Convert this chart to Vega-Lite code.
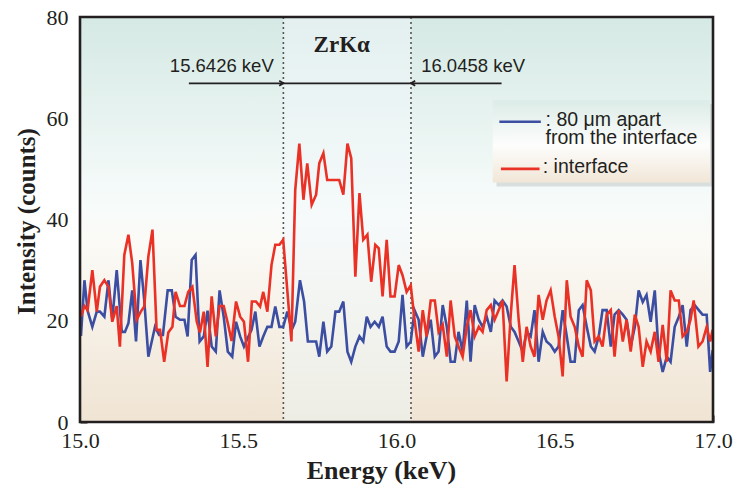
{
  "$schema": "https://vega.github.io/schema/vega-lite/v6.json",
  "width": 633,
  "height": 405,
  "autosize": {"type": "none"},
  "padding": {"left": 80, "top": 17, "right": 21, "bottom": 65},
  "config": {
    "view": {"stroke": null},
    "axis": {
      "domain": false, "grid": false, "tickColor": "#231f20", "tickWidth": 2, "tickSize": -7,
      "labelFont": "Liberation Serif", "labelFontSize": 22, "labelColor": "#231f20",
      "titleFont": "Liberation Serif", "titleFontWeight": "bold", "titleFontSize": 26, "titleColor": "#231f20"
    }
  },
  "datasets": {
    "spectra": [
      {"E":15.003,"I":17,"s":"apart"},{"E":15.014,"I":28,"s":"apart"},{"E":15.024,"I":22,"s":"apart"},{"E":15.039,"I":18.8,"s":"apart"},{"E":15.053,"I":21.8,"s":"apart"},{"E":15.063,"I":21.8,"s":"apart"},{"E":15.077,"I":20.8,"s":"apart"},{"E":15.09,"I":28,"s":"apart"},{"E":15.102,"I":20.2,"s":"apart"},{"E":15.116,"I":30,"s":"apart"},{"E":15.132,"I":17.8,"s":"apart"},{"E":15.142,"I":17.8,"s":"apart"},{"E":15.153,"I":19.5,"s":"apart"},{"E":15.165,"I":26,"s":"apart"},{"E":15.177,"I":15.9,"s":"apart"},{"E":15.191,"I":32,"s":"apart"},{"E":15.203,"I":24,"s":"apart"},{"E":15.216,"I":12.9,"s":"apart"},{"E":15.237,"I":18.8,"s":"apart"},{"E":15.25,"I":17.2,"s":"apart"},{"E":15.262,"I":17.2,"s":"apart"},{"E":15.277,"I":26,"s":"apart"},{"E":15.29,"I":26,"s":"apart"},{"E":15.302,"I":20.8,"s":"apart"},{"E":15.316,"I":20.2,"s":"apart"},{"E":15.33,"I":20.2,"s":"apart"},{"E":15.34,"I":16.9,"s":"apart"},{"E":15.353,"I":32,"s":"apart"},{"E":15.365,"I":33,"s":"apart"},{"E":15.378,"I":15.9,"s":"apart"},{"E":15.391,"I":16.9,"s":"apart"},{"E":15.403,"I":22,"s":"apart"},{"E":15.416,"I":14.9,"s":"apart"},{"E":15.429,"I":13.9,"s":"apart"},{"E":15.441,"I":26,"s":"apart"},{"E":15.454,"I":20.8,"s":"apart"},{"E":15.467,"I":13.9,"s":"apart"},{"E":15.481,"I":12.9,"s":"apart"},{"E":15.493,"I":19.8,"s":"apart"},{"E":15.506,"I":16.9,"s":"apart"},{"E":15.518,"I":14.9,"s":"apart"},{"E":15.532,"I":16.9,"s":"apart"},{"E":15.542,"I":18.2,"s":"apart"},{"E":15.554,"I":21.8,"s":"apart"},{"E":15.567,"I":14.9,"s":"apart"},{"E":15.579,"I":16.9,"s":"apart"},{"E":15.592,"I":18.8,"s":"apart"},{"E":15.605,"I":18.8,"s":"apart"},{"E":15.617,"I":22.8,"s":"apart"},{"E":15.63,"I":18.8,"s":"apart"},{"E":15.642,"I":18.8,"s":"apart"},{"E":15.655,"I":21.8,"s":"apart"},{"E":15.669,"I":18.2,"s":"apart"},{"E":15.68,"I":19.8,"s":"apart"},{"E":15.695,"I":28,"s":"apart"},{"E":15.708,"I":23.8,"s":"apart"},{"E":15.72,"I":15.9,"s":"apart"},{"E":15.733,"I":15.9,"s":"apart"},{"E":15.746,"I":15.9,"s":"apart"},{"E":15.756,"I":12.9,"s":"apart"},{"E":15.769,"I":19.8,"s":"apart"},{"E":15.781,"I":13.9,"s":"apart"},{"E":15.794,"I":14.9,"s":"apart"},{"E":15.807,"I":21.8,"s":"apart"},{"E":15.819,"I":21.8,"s":"apart"},{"E":15.832,"I":23.8,"s":"apart"},{"E":15.845,"I":13.9,"s":"apart"},{"E":15.857,"I":11.9,"s":"apart"},{"E":15.87,"I":14.9,"s":"apart"},{"E":15.883,"I":16.9,"s":"apart"},{"E":15.895,"I":15.9,"s":"apart"},{"E":15.906,"I":20.8,"s":"apart"},{"E":15.918,"I":18.8,"s":"apart"},{"E":15.931,"I":19.8,"s":"apart"},{"E":15.944,"I":18.8,"s":"apart"},{"E":15.956,"I":20.8,"s":"apart"},{"E":15.969,"I":14.9,"s":"apart"},{"E":15.981,"I":13.9,"s":"apart"},{"E":15.994,"I":13.9,"s":"apart"},{"E":16.007,"I":15.9,"s":"apart"},{"E":16.019,"I":25.1,"s":"apart"},{"E":16.032,"I":14.9,"s":"apart"},{"E":16.045,"I":15.9,"s":"apart"},{"E":16.057,"I":22.1,"s":"apart"},{"E":16.07,"I":20.2,"s":"apart"},{"E":16.083,"I":12.9,"s":"apart"},{"E":16.095,"I":16.9,"s":"apart"},{"E":16.108,"I":20.2,"s":"apart"},{"E":16.121,"I":12.9,"s":"apart"},{"E":16.133,"I":13.9,"s":"apart"},{"E":16.146,"I":23.1,"s":"apart"},{"E":16.159,"I":18.8,"s":"apart"},{"E":16.171,"I":11.9,"s":"apart"},{"E":16.184,"I":11.9,"s":"apart"},{"E":16.196,"I":17.8,"s":"apart"},{"E":16.209,"I":13.9,"s":"apart"},{"E":16.222,"I":24,"s":"apart"},{"E":16.234,"I":11.9,"s":"apart"},{"E":16.247,"I":23.1,"s":"apart"},{"E":16.26,"I":20.2,"s":"apart"},{"E":16.272,"I":18.8,"s":"apart"},{"E":16.285,"I":20.8,"s":"apart"},{"E":16.298,"I":17.8,"s":"apart"},{"E":16.31,"I":24,"s":"apart"},{"E":16.323,"I":23.1,"s":"apart"},{"E":16.335,"I":24,"s":"apart"},{"E":16.348,"I":22.8,"s":"apart"},{"E":16.361,"I":18.8,"s":"apart"},{"E":16.373,"I":17.8,"s":"apart"},{"E":16.386,"I":15.9,"s":"apart"},{"E":16.399,"I":13.9,"s":"apart"},{"E":16.411,"I":17.8,"s":"apart"},{"E":16.424,"I":16.9,"s":"apart"},{"E":16.436,"I":22.1,"s":"apart"},{"E":16.449,"I":11.9,"s":"apart"},{"E":16.462,"I":17.8,"s":"apart"},{"E":16.474,"I":15.9,"s":"apart"},{"E":16.487,"I":15.2,"s":"apart"},{"E":16.5,"I":13.9,"s":"apart"},{"E":16.512,"I":14.9,"s":"apart"},{"E":16.525,"I":22.1,"s":"apart"},{"E":16.538,"I":16.9,"s":"apart"},{"E":16.55,"I":11.9,"s":"apart"},{"E":16.563,"I":11.9,"s":"apart"},{"E":16.576,"I":22.1,"s":"apart"},{"E":16.588,"I":23.1,"s":"apart"},{"E":16.601,"I":18.8,"s":"apart"},{"E":16.614,"I":14.9,"s":"apart"},{"E":16.626,"I":13.9,"s":"apart"},{"E":16.639,"I":16.9,"s":"apart"},{"E":16.651,"I":22.1,"s":"apart"},{"E":16.664,"I":22.1,"s":"apart"},{"E":16.677,"I":14.9,"s":"apart"},{"E":16.689,"I":21.2,"s":"apart"},{"E":16.702,"I":22.1,"s":"apart"},{"E":16.715,"I":21.2,"s":"apart"},{"E":16.727,"I":20.2,"s":"apart"},{"E":16.74,"I":14.9,"s":"apart"},{"E":16.753,"I":18.8,"s":"apart"},{"E":16.765,"I":26,"s":"apart"},{"E":16.778,"I":23.7,"s":"apart"},{"E":16.79,"I":25.1,"s":"apart"},{"E":16.803,"I":19.8,"s":"apart"},{"E":16.816,"I":26,"s":"apart"},{"E":16.828,"I":13.9,"s":"apart"},{"E":16.841,"I":9.9,"s":"apart"},{"E":16.854,"I":12.9,"s":"apart"},{"E":16.866,"I":11.9,"s":"apart"},{"E":16.879,"I":18.8,"s":"apart"},{"E":16.892,"I":20.8,"s":"apart"},{"E":16.904,"I":23.1,"s":"apart"},{"E":16.917,"I":14.9,"s":"apart"},{"E":16.929,"I":22.1,"s":"apart"},{"E":16.942,"I":23.1,"s":"apart"},{"E":16.955,"I":22.1,"s":"apart"},{"E":16.967,"I":21.2,"s":"apart"},{"E":16.98,"I":21.2,"s":"apart"},{"E":16.991,"I":9.9,"s":"apart"},{"E":16.999,"I":14.2,"s":"apart"},
      {"E":15.003,"I":20.8,"s":"interface"},{"E":15.014,"I":22.9,"s":"interface"},{"E":15.024,"I":22.1,"s":"interface"},{"E":15.039,"I":30,"s":"interface"},{"E":15.053,"I":21.8,"s":"interface"},{"E":15.063,"I":26.7,"s":"interface"},{"E":15.077,"I":28,"s":"interface"},{"E":15.09,"I":26.7,"s":"interface"},{"E":15.102,"I":19.8,"s":"interface"},{"E":15.116,"I":22.9,"s":"interface"},{"E":15.126,"I":14.9,"s":"interface"},{"E":15.14,"I":33,"s":"interface"},{"E":15.153,"I":37,"s":"interface"},{"E":15.165,"I":31.4,"s":"interface"},{"E":15.179,"I":20.2,"s":"interface"},{"E":15.192,"I":21.8,"s":"interface"},{"E":15.203,"I":22.8,"s":"interface"},{"E":15.216,"I":32.7,"s":"interface"},{"E":15.229,"I":38,"s":"interface"},{"E":15.242,"I":18.2,"s":"interface"},{"E":15.253,"I":18.2,"s":"interface"},{"E":15.266,"I":11.9,"s":"interface"},{"E":15.279,"I":17.7,"s":"interface"},{"E":15.292,"I":18.8,"s":"interface"},{"E":15.302,"I":25.7,"s":"interface"},{"E":15.316,"I":22.9,"s":"interface"},{"E":15.33,"I":22.9,"s":"interface"},{"E":15.342,"I":25.7,"s":"interface"},{"E":15.355,"I":26.7,"s":"interface"},{"E":15.369,"I":19.8,"s":"interface"},{"E":15.379,"I":17.7,"s":"interface"},{"E":15.391,"I":21.8,"s":"interface"},{"E":15.403,"I":10.9,"s":"interface"},{"E":15.416,"I":24.8,"s":"interface"},{"E":15.429,"I":16.9,"s":"interface"},{"E":15.441,"I":22.9,"s":"interface"},{"E":15.454,"I":22.9,"s":"interface"},{"E":15.467,"I":19.5,"s":"interface"},{"E":15.479,"I":16,"s":"interface"},{"E":15.493,"I":23.8,"s":"interface"},{"E":15.506,"I":20.8,"s":"interface"},{"E":15.518,"I":19.8,"s":"interface"},{"E":15.531,"I":11.9,"s":"interface"},{"E":15.543,"I":23.8,"s":"interface"},{"E":15.556,"I":23.8,"s":"interface"},{"E":15.569,"I":22.8,"s":"interface"},{"E":15.579,"I":25.7,"s":"interface"},{"E":15.592,"I":21.8,"s":"interface"},{"E":15.605,"I":31,"s":"interface"},{"E":15.617,"I":35,"s":"interface"},{"E":15.63,"I":35,"s":"interface"},{"E":15.642,"I":36,"s":"interface"},{"E":15.655,"I":26,"s":"interface"},{"E":15.668,"I":15.9,"s":"interface"},{"E":15.68,"I":45.8,"s":"interface"},{"E":15.693,"I":55,"s":"interface"},{"E":15.706,"I":43.9,"s":"interface"},{"E":15.718,"I":51.1,"s":"interface"},{"E":15.732,"I":42.9,"s":"interface"},{"E":15.746,"I":44.9,"s":"interface"},{"E":15.756,"I":51.1,"s":"interface"},{"E":15.769,"I":53.1,"s":"interface"},{"E":15.781,"I":47.8,"s":"interface"},{"E":15.794,"I":47.8,"s":"interface"},{"E":15.807,"I":47.8,"s":"interface"},{"E":15.819,"I":47.8,"s":"interface"},{"E":15.832,"I":44.9,"s":"interface"},{"E":15.845,"I":55,"s":"interface"},{"E":15.857,"I":52.1,"s":"interface"},{"E":15.87,"I":28.7,"s":"interface"},{"E":15.883,"I":45.2,"s":"interface"},{"E":15.895,"I":36,"s":"interface"},{"E":15.908,"I":37,"s":"interface"},{"E":15.92,"I":27.7,"s":"interface"},{"E":15.933,"I":35,"s":"interface"},{"E":15.944,"I":34.3,"s":"interface"},{"E":15.956,"I":24.8,"s":"interface"},{"E":15.969,"I":36,"s":"interface"},{"E":15.981,"I":24.8,"s":"interface"},{"E":15.994,"I":24.8,"s":"interface"},{"E":16.007,"I":31,"s":"interface"},{"E":16.019,"I":29,"s":"interface"},{"E":16.032,"I":25.7,"s":"interface"},{"E":16.045,"I":27,"s":"interface"},{"E":16.057,"I":20.2,"s":"interface"},{"E":16.07,"I":13.9,"s":"interface"},{"E":16.083,"I":22.1,"s":"interface"},{"E":16.095,"I":16.9,"s":"interface"},{"E":16.108,"I":24,"s":"interface"},{"E":16.121,"I":24,"s":"interface"},{"E":16.133,"I":17.8,"s":"interface"},{"E":16.146,"I":19.2,"s":"interface"},{"E":16.159,"I":12.9,"s":"interface"},{"E":16.171,"I":24,"s":"interface"},{"E":16.184,"I":16.9,"s":"interface"},{"E":16.196,"I":14.9,"s":"interface"},{"E":16.209,"I":12.9,"s":"interface"},{"E":16.222,"I":18.8,"s":"interface"},{"E":16.234,"I":22.1,"s":"interface"},{"E":16.247,"I":16.9,"s":"interface"},{"E":16.26,"I":18.8,"s":"interface"},{"E":16.272,"I":17.8,"s":"interface"},{"E":16.285,"I":22.1,"s":"interface"},{"E":16.298,"I":23.1,"s":"interface"},{"E":16.31,"I":20.2,"s":"interface"},{"E":16.323,"I":22.1,"s":"interface"},{"E":16.335,"I":24,"s":"interface"},{"E":16.348,"I":8,"s":"interface"},{"E":16.361,"I":21.2,"s":"interface"},{"E":16.373,"I":31,"s":"interface"},{"E":16.386,"I":20.2,"s":"interface"},{"E":16.399,"I":11.9,"s":"interface"},{"E":16.411,"I":18.8,"s":"interface"},{"E":16.424,"I":14.9,"s":"interface"},{"E":16.436,"I":12.9,"s":"interface"},{"E":16.449,"I":25.1,"s":"interface"},{"E":16.462,"I":20.2,"s":"interface"},{"E":16.474,"I":24,"s":"interface"},{"E":16.487,"I":26,"s":"interface"},{"E":16.5,"I":20.8,"s":"interface"},{"E":16.512,"I":16.9,"s":"interface"},{"E":16.525,"I":9,"s":"interface"},{"E":16.538,"I":28,"s":"interface"},{"E":16.55,"I":20.8,"s":"interface"},{"E":16.563,"I":18.8,"s":"interface"},{"E":16.576,"I":14.9,"s":"interface"},{"E":16.588,"I":12.9,"s":"interface"},{"E":16.601,"I":28,"s":"interface"},{"E":16.614,"I":26,"s":"interface"},{"E":16.626,"I":15.9,"s":"interface"},{"E":16.639,"I":16.9,"s":"interface"},{"E":16.651,"I":14.9,"s":"interface"},{"E":16.664,"I":21.2,"s":"interface"},{"E":16.677,"I":22.1,"s":"interface"},{"E":16.689,"I":12.9,"s":"interface"},{"E":16.702,"I":22.1,"s":"interface"},{"E":16.715,"I":15.9,"s":"interface"},{"E":16.727,"I":20.2,"s":"interface"},{"E":16.74,"I":13.9,"s":"interface"},{"E":16.753,"I":21.2,"s":"interface"},{"E":16.765,"I":18.8,"s":"interface"},{"E":16.778,"I":10.9,"s":"interface"},{"E":16.79,"I":15.9,"s":"interface"},{"E":16.803,"I":13.9,"s":"interface"},{"E":16.816,"I":17.8,"s":"interface"},{"E":16.828,"I":11.9,"s":"interface"},{"E":16.841,"I":19.2,"s":"interface"},{"E":16.854,"I":11.9,"s":"interface"},{"E":16.866,"I":26,"s":"interface"},{"E":16.879,"I":24,"s":"interface"},{"E":16.892,"I":24,"s":"interface"},{"E":16.904,"I":16.9,"s":"interface"},{"E":16.917,"I":17.8,"s":"interface"},{"E":16.929,"I":20.2,"s":"interface"},{"E":16.939,"I":24,"s":"interface"},{"E":16.954,"I":14.9,"s":"interface"},{"E":16.967,"I":15.9,"s":"interface"},{"E":16.98,"I":18.8,"s":"interface"},{"E":16.991,"I":15.9,"s":"interface"},{"E":16.999,"I":18.2,"s":"interface"}
    ]
  },
  "layer": [
    {
      "data": {"values": [{"x": 15, "x2": 17, "y": 0, "y2": 80}]},
      "mark": {"type": "rect", "color": {"gradient": "linear", "x1": 0, "y1": 0, "x2": 0, "y2": 1, "stops": [
        {"offset": 0, "color": "#d5e9e4"}, {"offset": 0.45, "color": "#f6fbfa"}, {"offset": 0.56, "color": "#fbfaf6"}, {"offset": 1, "color": "#f0e4d3"}]}},
      "encoding": {
        "x": {"field": "x", "type": "quantitative", "scale": {"domain": [15, 17], "nice": false, "zero": false},
              "axis": {"orient": "bottom", "values": [15, 15.5, 16, 16.5, 17], "format": ".1f", "labelPadding": 15, "labelFlush": false,
                       "title": "Energy (keV)", "titleX": 301, "titleY": 56, "titleAlign": "center", "titleBaseline": "alphabetic"}},
        "x2": {"field": "x2"},
        "y": {"field": "y", "type": "quantitative", "scale": {"domain": [0, 80], "nice": false, "zero": true},
              "axis": {"orient": "left", "values": [0, 20, 40, 60, 80], "labelPadding": 19,
                       "title": "Intensity (counts)", "titleX": -46, "titleY": 204, "titleAngle": -90, "titleAlign": "center", "titleBaseline": "alphabetic", "titleFontSize": 25}},
        "y2": {"field": "y2"}
      }
    },
    {
      "data": {"values": [{"x": 15.6426, "x2": 16.0458, "y": 0, "y2": 80}]},
      "mark": {"type": "rect", "color": {"gradient": "linear", "x1": 0, "y1": 0, "x2": 0, "y2": 1, "stops": [
        {"offset": 0, "color": "#e3f0ef"}, {"offset": 0.5, "color": "#f6fafb"}, {"offset": 1, "color": "#eeede4"}]}},
      "encoding": {
        "x": {"field": "x", "type": "quantitative", "axis": null}, "x2": {"field": "x2"},
        "y": {"field": "y", "type": "quantitative", "axis": null}, "y2": {"field": "y2"}
      }
    },
    {
      "data": {"values": [{"x": 15.6426}, {"x": 16.0458}]},
      "mark": {"type": "rule", "color": "#555555", "strokeWidth": 1.6, "strokeDash": [2, 3]},
      "encoding": {"x": {"field": "x", "type": "quantitative", "axis": null}}
    },
    {
      "data": {"name": "spectra"},
      "transform": [{"filter": "datum.s == 'apart'"}],
      "mark": {"type": "line", "color": "#3b4ea2", "strokeWidth": 2.6},
      "encoding": {
        "x": {"field": "E", "type": "quantitative", "axis": null},
        "y": {"field": "I", "type": "quantitative", "axis": null}
      }
    },
    {
      "data": {"name": "spectra"},
      "transform": [{"filter": "datum.s == 'interface'"}],
      "mark": {"type": "line", "color": "#ea3126", "strokeWidth": 2.6},
      "encoding": {
        "x": {"field": "E", "type": "quantitative", "axis": null},
        "y": {"field": "I", "type": "quantitative", "axis": null}
      }
    },
    {
      "data": {"values": [{"x": 15.344, "x2": 16.332, "y": 66.9}]},
      "mark": {"type": "rule", "color": "#231f20", "strokeWidth": 1.8},
      "encoding": {
        "x": {"field": "x", "type": "quantitative", "axis": null}, "x2": {"field": "x2"},
        "y": {"field": "y", "type": "quantitative", "axis": null}
      }
    },
    {
      "data": {"values": [{"x": 15.6426, "y": 66.9}]},
      "mark": {"type": "point", "shape": "M-1,-0.6L0,0L-1,0.6", "size": 70, "filled": false, "color": "#231f20", "strokeWidth": 1.8, "opacity": 1},
      "encoding": {
        "x": {"field": "x", "type": "quantitative", "axis": null},
        "y": {"field": "y", "type": "quantitative", "axis": null}
      }
    },
    {
      "data": {"values": [{"x": 16.0458, "y": 66.9}]},
      "mark": {"type": "point", "shape": "M1,-0.6L0,0L1,0.6", "size": 70, "filled": false, "color": "#231f20", "strokeWidth": 1.8, "opacity": 1},
      "encoding": {
        "x": {"field": "x", "type": "quantitative", "axis": null},
        "y": {"field": "y", "type": "quantitative", "axis": null}
      }
    },
    {
      "data": {"values": [{"x": 15.448, "y": 70.3, "t": "15.6426 keV"}, {"x": 16.242, "y": 70.3, "t": "16.0458 keV"}]},
      "mark": {"type": "text", "font": "Liberation Sans", "fontSize": 18.5, "color": "#231f20", "baseline": "middle", "align": "center"},
      "encoding": {
        "x": {"field": "x", "type": "quantitative", "axis": null},
        "y": {"field": "y", "type": "quantitative", "axis": null},
        "text": {"field": "t"}
      }
    },
    {
      "data": {"values": [{"x": 15.827, "y": 74.5, "t": "ZrKα"}]},
      "mark": {"type": "text", "font": "Liberation Serif", "fontWeight": "bold", "fontSize": 23, "color": "#231f20", "baseline": "middle", "align": "center"},
      "encoding": {
        "x": {"field": "x", "type": "quantitative", "axis": null},
        "y": {"field": "y", "type": "quantitative", "axis": null},
        "text": {"field": "t"}
      }
    },
    {
      "data": {"values": [{"x": 16.316, "x2": 17.0, "y": 62.8, "y2": 46.5}]},
      "mark": {"type": "rect", "color": "#7a8080", "opacity": 0.22},
      "encoding": {
        "x": {"field": "x", "type": "quantitative", "axis": null}, "x2": {"field": "x2"},
        "y": {"field": "y", "type": "quantitative", "axis": null}, "y2": {"field": "y2"}
      }
    },
    {
      "data": {"values": [{"x": 16.304, "x2": 16.991, "y": 63.6, "y2": 47.3}]},
      "mark": {"type": "rect", "color": {"gradient": "linear", "x1": 0, "y1": 0, "x2": 0, "y2": 1, "stops": [
        {"offset": 0, "color": "#dcece8"}, {"offset": 0.55, "color": "#fdfdfc"}, {"offset": 1, "color": "#f1e6d7"}]}},
      "encoding": {
        "x": {"field": "x", "type": "quantitative", "axis": null}, "x2": {"field": "x2"},
        "y": {"field": "y", "type": "quantitative", "axis": null}, "y2": {"field": "y2"}
      }
    },
    {
      "data": {"values": [{"x": 16.325, "x2": 16.456, "y": 59.3}]},
      "mark": {"type": "rule", "color": "#3b4ea2", "strokeWidth": 2.6},
      "encoding": {
        "x": {"field": "x", "type": "quantitative", "axis": null}, "x2": {"field": "x2"},
        "y": {"field": "y", "type": "quantitative", "axis": null}
      }
    },
    {
      "data": {"values": [{"x": 16.330, "x2": 16.452, "y": 50.0}]},
      "mark": {"type": "rule", "color": "#ea3126", "strokeWidth": 2.6},
      "encoding": {
        "x": {"field": "x", "type": "quantitative", "axis": null}, "x2": {"field": "x2"},
        "y": {"field": "y", "type": "quantitative", "axis": null}
      }
    },
    {
      "data": {"values": [{"x": 16.471, "y": 58.5, "t": ": 80 μm apart\nfrom the interface"}, {"x": 16.462, "y": 49.15, "t": ": interface"}]},
      "mark": {"type": "text", "font": "Liberation Sans", "fontSize": 19.5, "lineHeight": 18, "lineBreak": "\n", "color": "#231f20", "baseline": "alphabetic", "align": "left"},
      "encoding": {
        "x": {"field": "x", "type": "quantitative", "axis": null},
        "y": {"field": "y", "type": "quantitative", "axis": null},
        "text": {"field": "t"}
      }
    },
    {
      "data": {"values": [{"x": 15, "x2": 17, "y": 0, "y2": 80}]},
      "mark": {"type": "rect", "filled": false, "stroke": "#231f20", "strokeWidth": 2.6, "fill": null},
      "encoding": {
        "x": {"field": "x", "type": "quantitative",
              "axis": {"orient": "top", "values": [15.5, 16, 16.5], "labels": false, "title": null}},
        "x2": {"field": "x2"},
        "y": {"field": "y", "type": "quantitative",
              "axis": {"orient": "right", "values": [20, 40, 60], "labels": false, "title": null}},
        "y2": {"field": "y2"}
      }
    }
  ],
  "resolve": {"axis": {"x": "independent", "y": "independent"}}
}
